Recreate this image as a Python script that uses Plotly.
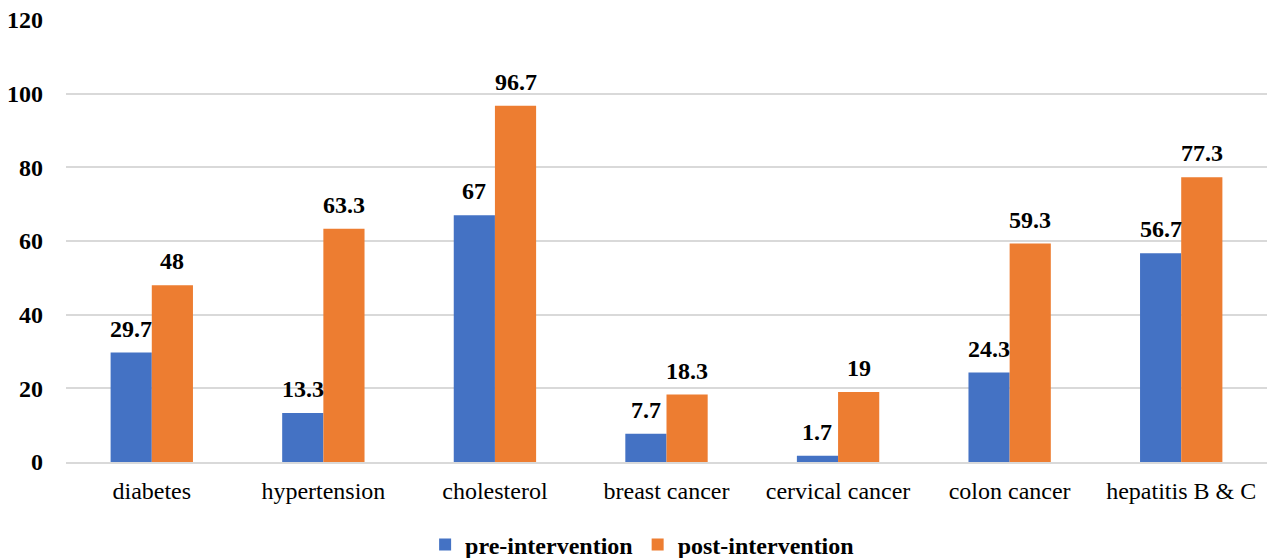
import plotly.graph_objects as go

categories = ["diabetes", "hypertension", "cholesterol", "breast cancer",
              "cervical cancer", "colon cancer", "hepatitis B & C"]
pre_values = [29.7, 13.3, 67, 7.7, 1.7, 24.3, 56.7]
post_values = [48, 63.3, 96.7, 18.3, 19, 59.3, 77.3]
y_ticks = [0, 20, 40, 60, 80, 100, 120]

FONT = "Liberation Serif, Times New Roman, serif"
BLUE = "#4472C4"
ORANGE = "#ED7D31"

W, H = 1269, 558
ML, MR, MT, MB = 66, 2, 20, 96
BARGAP = 0.52

fig = go.Figure()
fig.add_trace(go.Bar(name="pre-intervention", x=categories, y=pre_values,
                     marker=dict(color=BLUE, line=dict(width=0))))
fig.add_trace(go.Bar(name="post-intervention", x=categories, y=post_values,
                     marker=dict(color=ORANGE, line=dict(width=0))))

# data labels above bars
plot_w = W - ML - MR
cat_w = plot_w / len(categories)
bar_w = cat_w * (1 - BARGAP) / 2
for vals, sign in ((pre_values, -1), (post_values, 1)):
    for c, v in zip(categories, vals):
        fig.add_annotation(x=c, y=v, xref="x", yref="y", text=f"<b>{v}</b>",
                           showarrow=False, xanchor="center", yanchor="bottom",
                           xshift=sign * bar_w / 2, yshift=9,
                           font=dict(family=FONT, size=24, color="black"))

fig.update_layout(
    width=W, height=H,
    margin=dict(l=ML, r=MR, t=MT, b=MB),
    paper_bgcolor="white", plot_bgcolor="white",
    barmode="group", bargap=BARGAP, bargroupgap=0,
    font=dict(family=FONT, color="black"),
    showlegend=True,
    legend=dict(orientation="h", xref="container", x=0.506, xanchor="center",
                yref="container", y=0.0233, yanchor="middle",
                itemwidth=30,
                font=dict(family=FONT, size=24, color="black", weight="bold"),
                traceorder="normal"),
    xaxis=dict(showgrid=False, showline=True, linecolor="#d9d9d9", linewidth=1.5,
               tickfont=dict(family=FONT, size=24, color="black"),
               ticks="", ticklabelstandoff=6),
    yaxis=dict(range=[0, 120], tickvals=y_ticks, showgrid=True,
               gridcolor="#d9d9d9", gridwidth=1.5, zeroline=False,
               showline=False, ticks="", ticklabeloverflow="allow",
               tickfont=dict(family=FONT, size=24, color="black", weight="bold"),
               ticklabelstandoff=22),
)

fig.write_html("out.html",
               config={"displayModeBar": False},
               post_script="document.body.style.margin='0';"
                           "document.body.style.overflow='hidden';")
